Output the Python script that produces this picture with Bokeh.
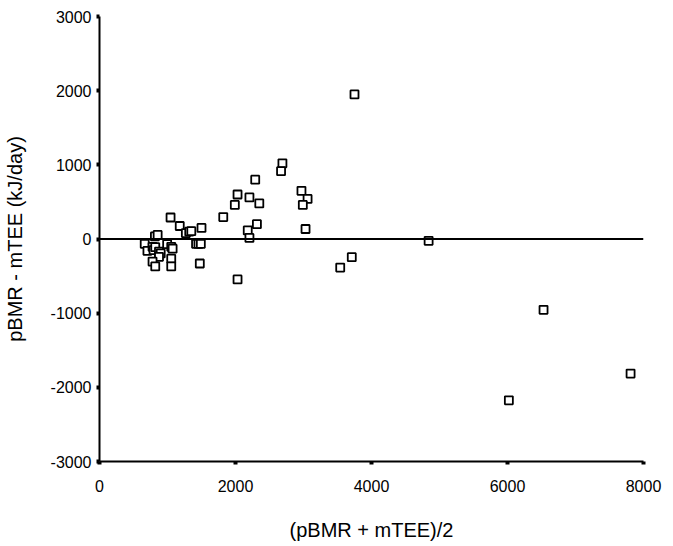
from bokeh.plotting import figure
from bokeh.models import Range1d, Span, FixedTicker, CustomJSTickFormatter
from bokeh.embed import file_html
from bokeh.resources import INLINE

mean_vals = [3750, 2970, 3060, 2990, 3030, 3710, 3540, 4840, 6530, 7810, 6020,
             2690, 2670, 2290, 2030, 2205, 1990, 2350, 1820, 2315, 2180, 2205, 2030,
             1045, 1180, 1500, 1270, 1320, 1350, 815, 855,
             665, 705, 780, 795, 820, 875, 900, 875, 780, 820,
             995, 1055, 1075, 1055, 1055, 1420, 1455, 1490, 1475]
diff_vals = [1950, 650, 540, 460, 135, -245, -385, -25, -955, -1815, -2175,
             1020, 915, 800, 600, 560, 460, 480, 295, 200, 115, 15, -545,
             290, 175, 150, 80, 100, 105, 35, 55,
             -65, -160, -105, -150, -110, -170, -195, -240, -305, -370,
             -70, -105, -130, -265, -370, -65, -65, -65, -330]
x_ticks = [0, 2000, 4000, 6000, 8000]
y_ticks = [-3000, -2000, -1000, 0, 1000, 2000, 3000]

FONT = "Liberation Sans"

p = figure(width=665, height=544, output_backend="svg", toolbar_location=None,
           x_range=Range1d(0, 8000), y_range=Range1d(-3000, 3000),
           min_border_left=97, min_border_right=22, min_border_top=16, min_border_bottom=83)
p.outline_line_color = None
p.grid.visible = False

for ax in (p.xaxis[0], p.yaxis[0]):
    ax.axis_line_color = "black"
    ax.axis_line_width = 2
    ax.major_tick_line_color = "black"
    ax.major_tick_line_width = 4
    ax.major_tick_in = 0
    ax.major_tick_out = 3
    ax.minor_tick_line_color = None
    ax.major_label_text_font = FONT
    ax.major_label_text_font_size = "16px"
    ax.major_label_text_color = "black"
    ax.axis_label_text_font = FONT
    ax.axis_label_text_font_size = "20px"
    ax.axis_label_text_font_style = "normal"
    ax.axis_label_text_color = "black"
    ax.formatter = CustomJSTickFormatter(code="return tick.toFixed(0);")

p.xaxis[0].ticker = FixedTicker(ticks=x_ticks)
p.yaxis[0].ticker = FixedTicker(ticks=y_ticks)
p.xaxis[0].axis_label = "(pBMR + mTEE)/2"
p.yaxis[0].axis_label = "pBMR - mTEE (kJ/day)"
p.xaxis[0].major_label_standoff = 15
p.xaxis[0].axis_label_standoff = 24
p.yaxis[0].major_label_standoff = 5
p.yaxis[0].axis_label_standoff = 22

p.add_layout(Span(location=0, dimension="width", line_color="black", line_width=2))

p.scatter(mean_vals, diff_vals, marker="square", size=8, fill_color="white",
          line_color="black", line_width=1.8)

open("out.html", "w").write(file_html(p, INLINE))
